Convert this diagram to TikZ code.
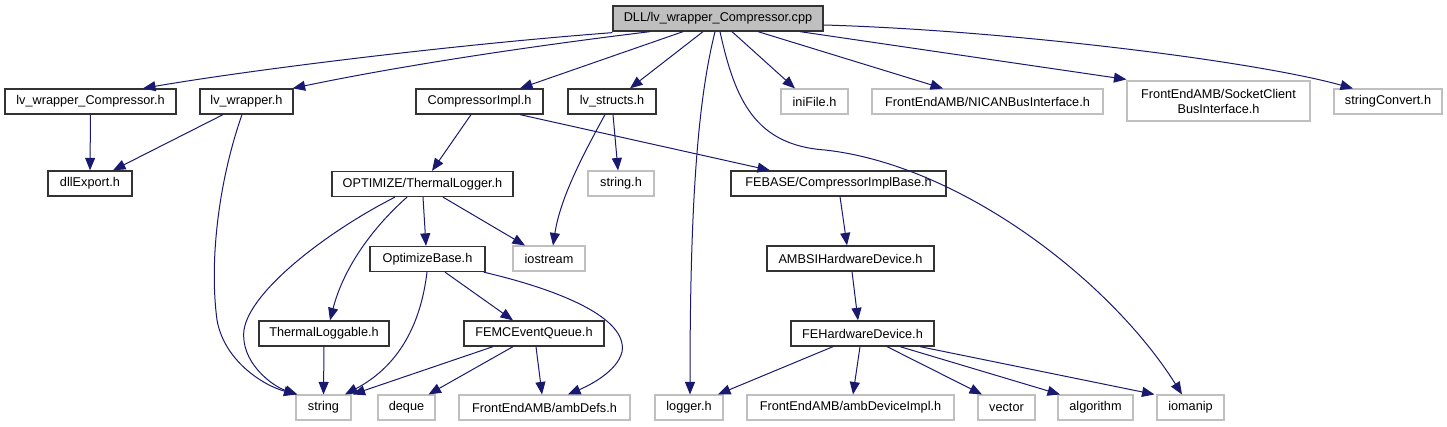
\documentclass[tikz,border=0pt]{standalone}
\usepackage{fontspec}
\setmainfont{Liberation Sans}
\usetikzlibrary{arrows.meta}
\definecolor{edgec}{HTML}{191970}
\definecolor{graybd}{HTML}{BFBFBF}
\definecolor{rootfill}{HTML}{BFBFBF}
\begin{document}
\begin{tikzpicture}[x=1pt,y=-1pt,
 every node/.style={font=\fontsize{12.7}{15}\selectfont, inner sep=0pt},
 nb/.style={draw=black!80, line width=1.3pt, minimum height=25pt, fill=white},
 gb/.style={draw=graybd, line width=1.1pt, minimum height=25pt, fill=white},
 dep/.style={draw=edgec, line width=1pt, -{Triangle[length=12.5pt,width=10pt]}}
]
\useasboundingbox (0,0) rectangle (1447,427);
% nodes
\node[nb, fill=rootfill, minimum width=210pt] (root) at (718,18.5) {DLL/lv\_wrapper\_Compressor.cpp};
\node[nb, minimum width=171pt] (lvwc) at (90.5,101.5) {lv\_wrapper\_Compressor.h};
\node[nb, minimum width=93pt] (lvw) at (246.5,101.5) {lv\_wrapper.h};
\node[nb, minimum width=127pt] (cimpl) at (479.5,101.5) {CompressorImpl.h};
\node[nb, minimum width=88pt] (lvs) at (612,101.5) {lv\_structs.h};
\node[gb, minimum width=67pt] (ini) at (814.5,101.5) {iniFile.h};
\node[gb, minimum width=231pt] (nican) at (987.5,101.5) {FrontEndAMB/NICANBusInterface.h};
\node[gb, minimum width=183pt, minimum height=40pt, align=center] (sock) at (1218.5,101) {FrontEndAMB/SocketClient\\BusInterface.h};
\node[gb, minimum width=108pt] (sconv) at (1388,101.5) {stringConvert.h};
\node[nb, minimum width=84pt] (dll) at (90,183.5) {dllExport.h};
\node[nb, minimum width=181pt] (tlog) at (422.5,184) {OPTIMIZE/ThermalLogger.h};
\node[gb, minimum width=66pt] (strh) at (621,183.5) {string.h};
\node[nb, minimum width=215pt] (febase) at (838.5,183.5) {FEBASE/CompressorImplBase.h};
\node[nb, minimum width=115pt] (obase) at (427.5,259) {OptimizeBase.h};
\node[gb, minimum width=72pt] (iost) at (549,258.5) {iostream};
\node[nb, minimum width=167pt] (ambsi) at (850.5,258.5) {AMBSIHardwareDevice.h};
\node[nb, minimum width=130pt] (tlable) at (324,333.5) {ThermalLoggable.h};
\node[nb, minimum width=140pt] (femc) at (534,333.5) {FEMCEventQueue.h};
\node[nb, minimum width=143pt] (fehw) at (862.5,333.5) {FEHardwareDevice.h};
\node[gb, minimum width=55pt] (str) at (323.5,407.5) {string};
\node[gb, minimum width=57pt] (deque) at (406.5,407.5) {deque};
\node[gb, minimum width=171pt] (ambdefs) at (544.5,407.5) {FrontEndAMB/ambDefs.h};
\node[gb, minimum width=68pt] (logger) at (689,407.5) {logger.h};
\node[gb, minimum width=207pt] (ambdev) at (850.5,407.5) {FrontEndAMB/ambDeviceImpl.h};
\node[gb, minimum width=57pt] (vector) at (1006.5,407.5) {vector};
\node[gb, minimum width=75pt] (algo) at (1095.5,407.5) {algorithm};
\node[gb, minimum width=67pt] (ioman) at (1190.5,407.5) {iomanip};
% edges from root
\draw[dep] ([yshift=-1pt]root.south west) .. controls (450,45) and (250,70) .. ([xshift=52.5pt]lvwc.north);
\draw[dep] ([xshift=-68pt]root.south) .. controls (500,50) and (380,70) .. ([xshift=-1pt]lvw.north east);
\draw[dep] ([xshift=-35pt]root.south) -- ([xshift=40.5pt]cimpl.north);
\draw[dep] ([xshift=-15pt]root.south) -- ([xshift=18pt]lvs.north);
\draw[dep] ([xshift=-3pt]root.south) .. controls (698,100) and (690,200) .. ([xshift=1pt]logger.north);
\draw[dep] ([xshift=2pt]root.south) .. controls (735,100) and (755,145) .. (825,150) .. controls (960,165) and (1110,280) .. ([xshift=-8.5pt]ioman.north);
\draw[dep] ([xshift=14pt]root.south) -- ([xshift=-19.5pt]ini.north);
\draw[dep] ([xshift=40pt]root.south) -- ([xshift=-44.5pt]nican.north);
\draw[dep] ([xshift=82pt]root.south) -- ([yshift=1pt]sock.north west);
\draw[dep] ([yshift=-6.5pt]root.east) .. controls (1000,30) and (1250,60) .. ([xshift=-35pt]sconv.north);
% row 1
\draw[dep] (lvwc.south) -- (dll.north);
\draw[dep] ([xshift=-23.5pt]lvw.south) -- ([xshift=23pt]dll.north);
\draw[dep] ([xshift=-4.5pt]lvw.south) .. controls (219,180) and (209,260) .. (217,320) .. controls (224,360) and (262,385) .. ([xshift=1pt]str.north west);
\draw[dep] ([xshift=-8.5pt]cimpl.south) -- ([xshift=9.5pt]tlog.north);
\draw[dep] ([xshift=40.5pt]cimpl.south) -- ([xshift=-68.5pt]febase.north);
\draw[dep] ([xshift=1pt]lvs.south) -- ([xshift=-3pt]strh.north);
\draw[dep] ([xshift=-7pt]lvs.south) .. controls (580,160) and (560,200) .. ([xshift=4pt]iost.north);
% row 2
\draw[dep] ([xshift=-27.5pt]tlog.south) .. controls (330,230) and (250,290) .. (244,330) .. controls (240,362) and (272,386) .. ([xshift=2pt]str.north west);
\draw[dep] ([xshift=-15.5pt]tlog.south) .. controls (370,230) and (343,270) .. ([xshift=6pt]tlable.north);
\draw[dep] ([xshift=0.5pt]tlog.south) -- ([xshift=-1.5pt]obase.north);
\draw[dep] ([xshift=20.5pt]tlog.south) -- ([xshift=-24pt]iost.north);
\draw[dep] ([xshift=1.5pt]febase.south) -- ([xshift=-3.5pt]ambsi.north);
% row 3
\draw[dep] ([xshift=-0.5pt]obase.south) .. controls (420,330) and (395,368) .. ([xshift=21.5pt]str.north);
\draw[dep] ([xshift=17.5pt]obase.south) -- ([xshift=-21pt]femc.north);
\draw[dep] ([xshift=-2pt]obase.south east) .. controls (560,290) and (628,318) .. (622,352) .. controls (617,372) and (588,386) .. ([xshift=23.5pt]ambdefs.north);
\draw[dep] ([xshift=1.5pt]ambsi.south) -- ([xshift=-4.5pt]fehw.north);
% row 4
\draw[dep] (tlable.south) -- (str.north);
\draw[dep] ([xshift=-41pt]femc.south) -- ([xshift=1pt]str.north east);
\draw[dep] ([xshift=-21pt]femc.south) -- ([xshift=22pt]deque.north);
\draw[dep] ([xshift=2pt]femc.south) -- ([xshift=-2.5pt]ambdefs.north);
\draw[dep] ([xshift=-29.5pt]fehw.south) -- ([xshift=29pt]logger.north);
\draw[dep] ([xshift=-2.5pt]fehw.south) -- ([xshift=2.5pt]ambdev.north);
\draw[dep] ([xshift=24.5pt]fehw.south) -- ([xshift=-24.5pt]vector.north);
\draw[dep] ([xshift=37.5pt]fehw.south) -- ([xshift=-35.5pt]algo.north);
\draw[dep] ([xshift=57.5pt]fehw.south) -- ([xshift=-36pt]ioman.north);
\end{tikzpicture}
\end{document}
